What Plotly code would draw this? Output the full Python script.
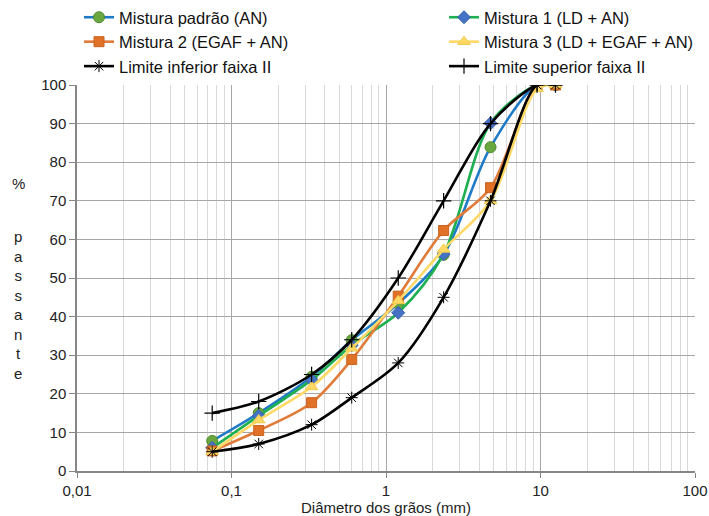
import plotly.graph_objects as go

# Sieve openings (mm)
diametro = [0.075, 0.15, 0.33, 0.6, 1.2, 2.36, 4.75, 9.5, 12.5]

# Percent passing for each mix
mistura_padrao = [7.8, 15.0, 24.4, 33.9, 43.4, 56.0, 83.9, 100, 100]
mistura_1 = [6.0, 14.3, 23.6, 32.6, 41.0, 56.2, 90.1, 100, 100]
mistura_2 = [5.2, 10.5, 17.7, 28.9, 45.3, 62.3, 73.4, 100, 100]
mistura_3 = [5.0, 13.2, 21.8, 31.8, 44.1, 57.4, 70.0, 99.0, 100]

# Grading envelope (zone II)
limite_inferior = [5, 7, 12, 19, 28, 45, 70, 100, 100]
limite_superior = [15, 18, 25, 34, 50, 70, 90, 100, 100]

x_tickvals = [0.01, 0.1, 1, 10, 100]
x_ticktext = ["0,01", "0,1", "1", "10", "100"]
y_tickvals = list(range(0, 101, 10))

FONT = "Liberation Sans, Arial, sans-serif"
TXT = "#222222"

fig = go.Figure()

# left legend column: padrão, Mistura 2, limite inferior
# right legend column: Mistura 1, Mistura 3, limite superior
series = [
    dict(name="Mistura padrão (AN)", y=mistura_padrao, line="#1F7BC8", legend="legend",
         marker=dict(symbol="circle", size=11, color="#6AA83F",
                     line=dict(color="#4E8A2E", width=1))),
    dict(name="Mistura 1 (LD + AN)", y=mistura_1, line="#1DAF50", legend="legend2",
         marker=dict(symbol="diamond", size=10, color="#4472C4",
                     line=dict(color="#3A63AD", width=1))),
    dict(name="Mistura 2 (EGAF + AN)", y=mistura_2, line="#E07B39", legend="legend",
         marker=dict(symbol="square", size=10, color="#E07126",
                     line=dict(color="#C9631F", width=1))),
    dict(name="Mistura 3 (LD + EGAF + AN)", y=mistura_3, line="#FFD966", legend="legend2",
         marker=dict(symbol="triangle-up", size=11, color="#FFD966",
                     line=dict(color="#F2C94C", width=1))),
    dict(name="Limite inferior faixa II", y=limite_inferior, line="#000000", legend="legend",
         marker=dict(symbol="asterisk-open", size=10, color="#000000",
                     line=dict(color="#000000", width=1))),
    dict(name="Limite superior faixa II", y=limite_superior, line="#000000", legend="legend2",
         marker=dict(symbol="cross-thin-open", size=11, color="#000000",
                     line=dict(color="#000000", width=1.2))),
]

for s in series:
    fig.add_trace(go.Scatter(
        x=diametro, y=s["y"], name=s["name"], mode="lines+markers",
        line=dict(color=s["line"], width=2.6, shape="spline", smoothing=0.9),
        marker=s["marker"], legend=s["legend"],
    ))

legend_common = dict(
    orientation="v", xref="container", yref="container",
    y=1.0, xanchor="left", yanchor="top",
    font=dict(family=FONT, size=16.5, color="#111111"),
    itemwidth=30, tracegroupgap=0, bgcolor="rgba(0,0,0,0)",
)

fig.update_layout(
    width=709, height=516,
    margin=dict(l=77, r=14, t=85, b=45, autoexpand=False),
    paper_bgcolor="white", plot_bgcolor="white",
    font=dict(family=FONT, size=15, color=TXT),
    showlegend=True,
    legend=dict(x=79 / 709, **legend_common),
    legend2=dict(x=444 / 709, **legend_common),
    xaxis=dict(
        type="log", range=[-2, 2],
        tickvals=x_tickvals, ticktext=x_ticktext,
        showgrid=True, gridcolor="#A6A6A6", gridwidth=1,
        minor=dict(dtick="D1", showgrid=True, gridcolor="#D9D9D9",
                   ticks="", gridwidth=1),
        showline=True, linecolor="#868686", linewidth=1.5,
        ticks="outside", ticklen=5, tickcolor="#868686",
        tickfont=dict(size=15, color=TXT),
        zeroline=False, automargin=False,
        title=dict(text="Diâmetro dos grãos (mm)", standoff=4,
                   font=dict(size=15, color=TXT)),
    ),
    yaxis=dict(
        range=[0, 100], tickvals=y_tickvals,
        showgrid=True, gridcolor="#A6A6A6", gridwidth=1,
        showline=True, linecolor="#868686", linewidth=1.5,
        ticks="outside", ticklen=6, tickcolor="#868686",
        tickfont=dict(size=15, color=TXT),
        zeroline=False, automargin=False,
    ),
)

# vertical, letter-by-letter y-axis caption
fig.add_annotation(text="%", xref="paper", yref="paper", x=-0.095, y=0.772,
                   xanchor="center", showarrow=False, font=dict(size=15, color=TXT))
fig.add_annotation(text="p<br>a<br>s<br>s<br>a<br>n<br>t<br>e",
                   xref="paper", yref="paper", x=-0.095, y=0.43,
                   xanchor="center", showarrow=False, align="center",
                   font=dict(size=15, color=TXT))

fig.write_html("out.html")
